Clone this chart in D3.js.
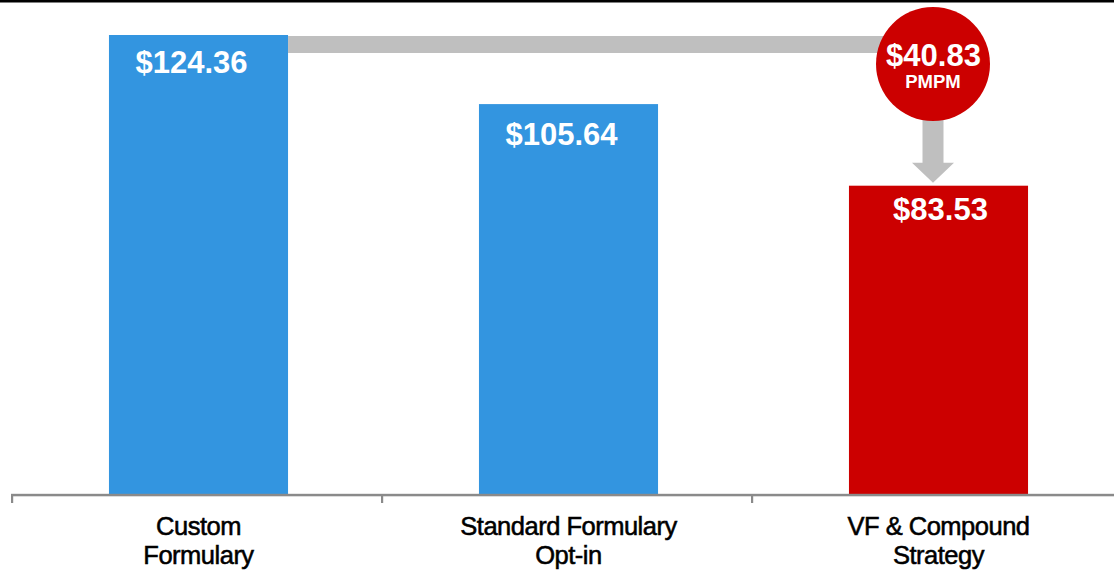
<!DOCTYPE html>
<html>
<head>
<meta charset="utf-8">
<script src="https://cdn.jsdelivr.net/npm/d3@7"></script>
<style>
  html, body { margin: 0; padding: 0; background: #fff; }
  svg { display: block; }
  text { font-family: "Liberation Sans", Arial, sans-serif; }
</style>
</head>
<body>
<svg id="chart" width="1114" height="572"></svg>
<script>
// Data
const categories = [["Custom", "Formulary"], ["Standard Formulary", "Opt-in"], ["VF & Compound", "Strategy"]];
const values = [124.36, 105.64, 83.53];
const barColors = ["#3395e0", "#3395e0", "#cc0000"];
const valueLabels = ["$124.36", "$105.64", "$83.53"];
const savingsLabel = ["$40.83", "PMPM"];

const W = 1114, H = 572;
const svg = d3.select("#chart");

const keys = categories.map((c, i) => "c" + i);
const x = d3.scaleBand().domain(keys).range([12, 1122]).paddingInner(0.516).paddingOuter(0.258);
const y = d3.scaleLinear().domain([0, values[0]]).range([494, 35]);
const barShift = 1.5;

// top black rule
svg.append("rect").attr("x", 0).attr("y", 0).attr("width", W).attr("height", 2.5).attr("fill", "#000");

// bars
svg.selectAll("rect.bar").data(values).enter().append("rect")
  .attr("class", "bar")
  .attr("x", (d, i) => x(keys[i]) + barShift)
  .attr("y", d => y(d))
  .attr("width", x.bandwidth())
  .attr("height", d => y(0) - y(d))
  .attr("fill", (d, i) => barColors[i]);

// connector
const cx = x(keys[2]) + x.bandwidth() / 2 - 4;
const cTop = y(values[0]) + 1;
const cStart = x(keys[0]) + x.bandwidth() + barShift;
svg.append("rect")
  .attr("x", cStart)
  .attr("y", cTop)
  .attr("width", cx - cStart)
  .attr("height", 17)
  .attr("fill", "#bfbfbf");

// arrow down
const cy = 64, r = 57;
const tipY = y(values[2]) - 3;
svg.append("path")
  .attr("d", `M${cx - 10.5},${cy} L${cx + 10.5},${cy} L${cx + 10.5},${tipY - 20} L${cx + 21},${tipY - 20} L${cx},${tipY} L${cx - 21},${tipY - 20} L${cx - 10.5},${tipY - 20} Z`)
  .attr("fill", "#bfbfbf");

// circle
svg.append("circle").attr("cx", cx).attr("cy", cy).attr("r", r).attr("fill", "#cc0000");
svg.append("text").attr("x", cx + 0.5).attr("y", 65.5).attr("text-anchor", "middle")
  .attr("fill", "#fff").attr("font-weight", "bold").attr("font-size", 31).text(savingsLabel[0]);
svg.append("text").attr("x", cx).attr("y", 88).attr("text-anchor", "middle")
  .attr("fill", "#fff").attr("font-weight", "bold").attr("font-size", 18.5).text(savingsLabel[1]);

// value labels
svg.selectAll("text.val").data(values).enter().append("text")
  .attr("class", "val")
  .attr("x", (d, i) => x(keys[i]) + barShift + x.bandwidth() / 2 + [-7, -7, 2][i])
  .attr("y", (d, i) => y(d) + [38, 41, 34][i])
  .attr("text-anchor", "middle")
  .attr("fill", "#fff")
  .attr("font-weight", "bold")
  .attr("font-size", 31)
  .text((d, i) => valueLabels[i]);

// axis
const axisY = 495;
svg.append("rect").attr("x", 11).attr("y", axisY - 1.2).attr("width", W - 11).attr("height", 2.5).attr("fill", "#8a8a8a");
const step = x.step();
const bounds = keys.map(k => x(k) - x.paddingOuter() * step);
svg.selectAll("rect.tick").data(bounds).enter().append("rect")
  .attr("class", "tick")
  .attr("x", d => d - 1)
  .attr("y", axisY)
  .attr("width", 2.2)
  .attr("height", 8)
  .attr("fill", "#8a8a8a");

// category labels
const lab = svg.selectAll("text.cat").data(categories).enter().append("text")
  .attr("class", "cat")
  .attr("text-anchor", "middle")
  .attr("fill", "#000")
  .attr("stroke", "#000")
  .attr("stroke-width", 0.55)
  .attr("font-size", 25.5)
  .attr("letter-spacing", -0.5);
lab.each(function(d, i) {
  const t = d3.select(this);
  d.forEach((line, j) => {
    t.append("tspan").attr("x", x(keys[i]) + barShift + x.bandwidth() / 2).attr("y", 535 + j * 29).text(line);
  });
});
</script>
</body>
</html>
